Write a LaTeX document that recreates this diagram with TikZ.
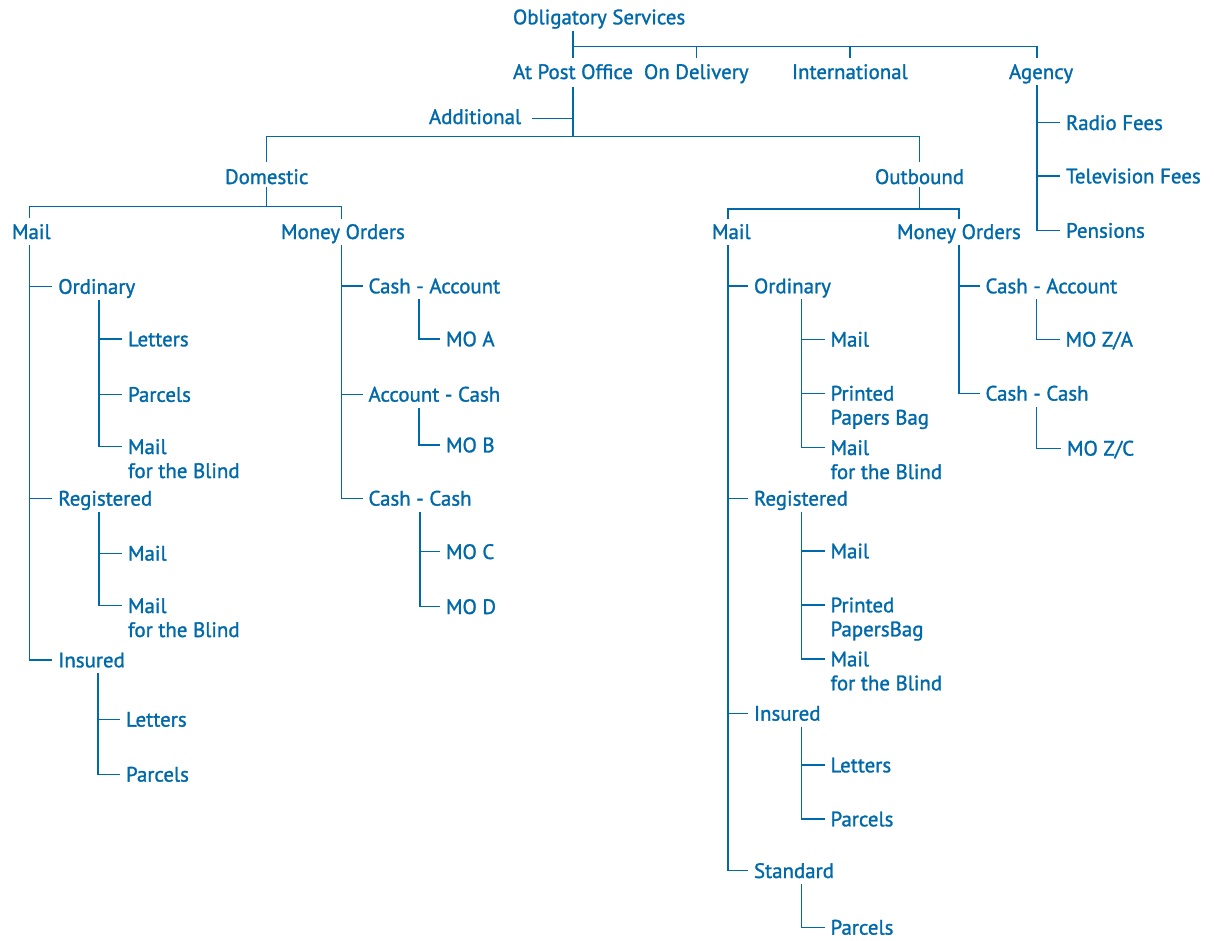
\documentclass[tikz,border=0pt]{standalone}
\usepackage{fontspec}
\setmainfont{PT Sans}[RawFeature={embolden=1.3}]
\usetikzlibrary{calc}
\definecolor{dblue}{RGB}{0,105,170}
\tikzset{
  lbl/.style={anchor=west, inner sep=0pt, outer sep=0pt, text height=14.6pt, text depth=0pt,
    font=\fontsize{20.9}{24}\selectfont, text=dblue},
  ln/.style={draw=dblue, line width=1.3pt}
}
\newcommand{\trunk}[4]{\draw[ln] ($(#2.west |- #1.south)+(-#4,6)$) |- ($(#3.west)+(-6,0)$);}
\newcommand{\stub}[2]{\draw[ln] ($(#1.west)+(-#2,0)$) -- ($(#1.west)+(-6,0)$);}
\newcommand{\two}[2]{\begin{tabular}[t]{@{}l@{}}#1\\#2\end{tabular}}
\begin{document}
\begin{tikzpicture}[x=1pt,y=-1pt]
\useasboundingbox (0,0) rectangle (1214,940);
% top level
\node[lbl] (obl) at (513,17) {Obligatory Services};
\node[lbl] (apo) at (513,71.7) {At Post Office};
\node[lbl] (ond) at (644,71.7) {On Delivery};
\node[lbl] (intl) at (792,71.7) {International};
\node[lbl] (agn) at (1009,71.7) {Agency};
\node[lbl] (add) at (429,116.7) {Additional};
\node[lbl] (dom) at (225,176.7) {Domestic};
\node[lbl] (outb) at (875,176.7) {Outbound};
% agency
\node[lbl] (radio) at (1066,122.7) {Radio Fees};
\node[lbl] (tv) at (1066,176) {Television Fees};
\node[lbl] (pens) at (1066,230.5) {Pensions};
% domestic
\node[lbl] (mailL) at (12,231.7) {Mail};
\node[lbl] (moL) at (281,231.7) {Money Orders};
\node[lbl] (ordL) at (58.3,286.5) {Ordinary};
\node[lbl] (lettL1) at (128,339) {Letters};
\node[lbl] (parL1) at (128,394.5) {Parcels};
\node[lbl] (blindL1) at (128,446.7) {\two{Mail}{for the Blind}};
\node[lbl] (regL) at (58.3,498.3) {Registered};
\node[lbl] (mailL2) at (128,553.3) {Mail};
\node[lbl] (blindL2) at (128,605.7) {\two{Mail}{for the Blind}};
\node[lbl] (insL) at (58.3,660) {Insured};
\node[lbl] (lettL3) at (126,719.3) {Letters};
\node[lbl] (parL3) at (126,774.3) {Parcels};
\node[lbl] (caL) at (368.5,286) {Cash - Account};
\node[lbl] (moa) at (446,339) {MO A};
\node[lbl] (acL) at (368.5,394.3) {Account - Cash};
\node[lbl] (mob) at (446,445) {MO B};
\node[lbl] (ccL) at (368.5,498.3) {Cash - Cash};
\node[lbl] (moc) at (446,551.7) {MO C};
\node[lbl] (mod) at (446,606.7) {MO D};
% outbound
\node[lbl] (mailR) at (712,231.7) {Mail};
\node[lbl] (moR) at (897,231.7) {Money Orders};
\node[lbl] (ordR) at (754,286) {Ordinary};
\node[lbl] (mailR1) at (830.5,339.3) {Mail};
\node[lbl] (ppbR1) at (830.5,393.3) {\two{Printed}{Papers Bag}};
\node[lbl] (blindR1) at (830.5,447.7) {\two{Mail}{for the Blind}};
\node[lbl] (regR) at (754,498.3) {Registered};
\node[lbl] (mailR2) at (830.5,551) {Mail};
\node[lbl] (ppbR2) at (830.5,605) {\two{Printed}{PapersBag}};
\node[lbl] (blindR2) at (830.5,659) {\two{Mail}{for the Blind}};
\node[lbl] (insR) at (754,713.3) {Insured};
\node[lbl] (lettR) at (830.5,765) {Letters};
\node[lbl] (parR) at (830.5,819) {Parcels};
\node[lbl] (stdR) at (754,870.7) {Standard};
\node[lbl] (parR2) at (830.5,927.3) {Parcels};
\node[lbl] (caR) at (985.5,286) {Cash - Account};
\node[lbl] (mozaR) at (1065.5,339.3) {MO Z/A};
\node[lbl] (ccR) at (985.5,393.3) {Cash - Cash};
\node[lbl] (mozcR) at (1067,448.3) {MO Z/C};
% ---- connectors, top
\coordinate (bar) at ($(apo.north |- obl.south)+(0,22.5)$);
\draw[ln] ($(apo.north |- obl.south)+(0,7)$) -- ($(apo.north)+(0,-6)$);
\draw[ln] (bar) -| ($(radio.west |- agn.north)+(-29,-6)$);
\draw[ln] (bar -| ond.north) -- ($(ond.north)+(0,-6)$);
\draw[ln] (bar -| intl.north) -- ($(intl.north)+(0,-6)$);
\coordinate (bar2) at ($(apo.south)+(0,57.2)$);
\draw[ln] ($(apo.south)+(0,8)$) -- (bar2);
\draw[ln] ($(add.east)+(11,1.5)$) -- ($(add.east -| apo.south)+(0,1.5)$);
\draw[ln] ($(dom.north)+(0,-7)$) |- (bar2) -| ($(outb.north)+(0,-7)$);
% agency
\trunk{agn}{radio}{pens}{29}
\stub{radio}{29}
\stub{tv}{29}
% domestic
\coordinate (bar3L) at ($(dom.south)+(0,22.8)$);
\draw[ln] ($(dom.south)+(0,3)$) -- (dom.south |- bar3L);
\draw[ln] ($(ordL.west |- mailL.north)+(-29,-6)$) |- ($(caL.west |- bar3L)+(-27,0)$) -- ($(caL.west |- moL.north)+(-27,-5)$);
\trunk{mailL}{ordL}{insL}{29}
\stub{ordL}{29}
\stub{regL}{29}
\trunk{ordL}{lettL1}{blindL1}{29}
\stub{lettL1}{29}
\stub{parL1}{29}
\trunk{regL}{mailL2}{blindL2}{29}
\stub{mailL2}{29}
\trunk{insL}{lettL3}{parL3}{28}
\stub{lettL3}{28}
\trunk{moL}{caL}{ccL}{27}
\stub{caL}{27}
\stub{acL}{27}
\trunk{caL}{moa}{moa}{27}
\trunk{acL}{mob}{mob}{27}
\trunk{ccL}{moc}{mod}{26}
\stub{moc}{26}
% outbound
\coordinate (bar3R) at ($(outb.south)+(0,25)$);
\draw[ln] ($(outb.south)+(0,3)$) -- (outb.south |- bar3R);
\draw[ln] ($(ordR.west |- mailR.north)+(-26,-5)$) |- ($(caR.west |- bar3R)+(-26.5,0)$) -- ($(caR.west |- moR.north)+(-26.5,-5)$);
\trunk{mailR}{ordR}{stdR}{26}
\stub{ordR}{26}
\stub{regR}{26}
\stub{insR}{26}
\trunk{ordR}{mailR1}{blindR1}{29}
\stub{mailR1}{29}
\stub{ppbR1}{29}
\trunk{regR}{mailR2}{blindR2}{29}
\stub{mailR2}{29}
\stub{ppbR2}{29}
\trunk{insR}{lettR}{parR}{29}
\stub{lettR}{29}
\trunk{stdR}{parR2}{parR2}{29}
\trunk{moR}{caR}{ccR}{26.5}
\stub{caR}{26.5}
\trunk{caR}{mozaR}{mozaR}{29}
\trunk{ccR}{mozcR}{mozcR}{30.5}
\end{tikzpicture}
\end{document}
